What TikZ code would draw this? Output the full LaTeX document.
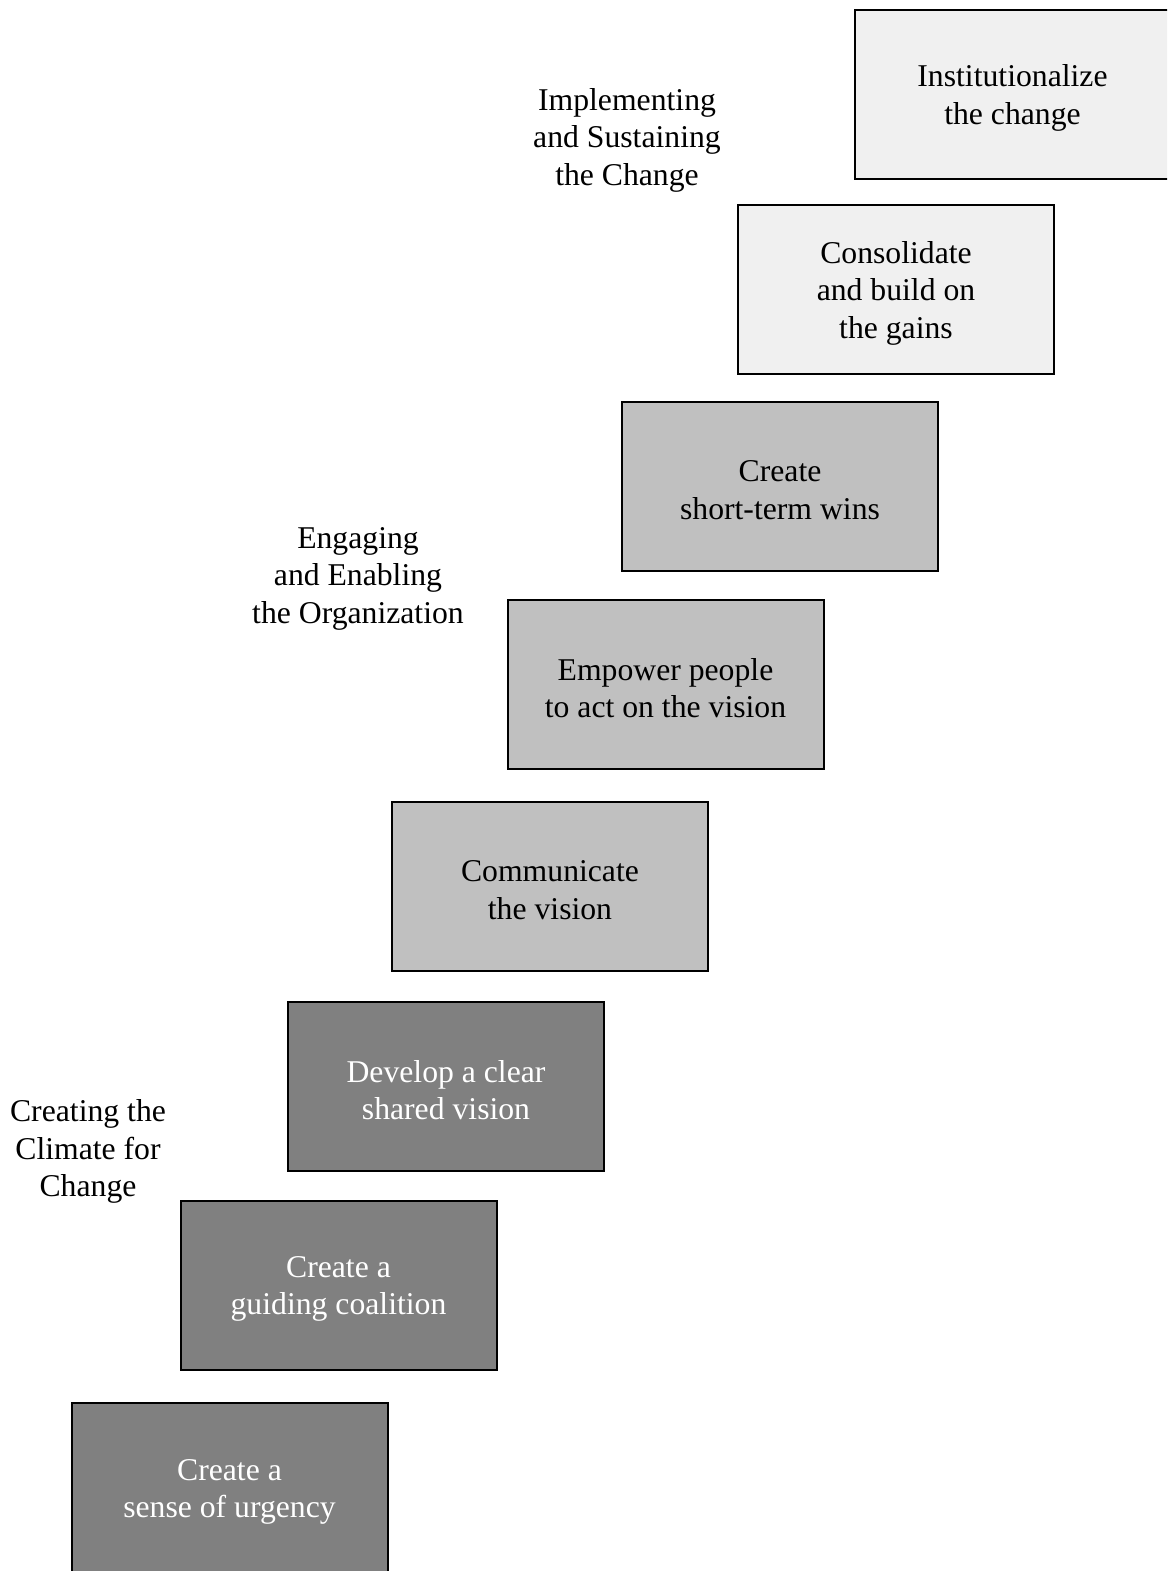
\documentclass[tikz,border=0pt]{standalone}
\usepackage{fontspec}
\setmainfont{Liberation Serif}
\definecolor{lightbox}{RGB}{240,240,240}
\definecolor{midbox}{RGB}{192,192,192}
\definecolor{darkbox}{RGB}{128,128,128}
\tikzset{
  txt/.style={align=center,font=\fontsize{31.7pt}{37.5pt}\selectfont,inner sep=0pt},
  stepbox/.style={draw=black,line width=2pt,minimum width=316pt,minimum height=169pt,inner sep=0pt},
  lightstep/.style={stepbox,fill=lightbox},
  midstep/.style={stepbox,fill=midbox},
  darkstep/.style={stepbox,fill=darkbox},
  darktxt/.style={txt,text=white},
  lighttxt/.style={txt,text=black},
  phase/.style={txt,text=black}
}
\begin{document}
\begin{tikzpicture}[x=1pt,y=-1pt]
\useasboundingbox (0,0) rectangle (1167,1571);
\clip (0,0) rectangle (1167,1571);
\node[lightstep] (s8) at (1012.5,94.5) {};
\node[lightstep] (s7) at (896,289.5) {};
\node[midstep] (s6) at (780,486.5) {};
\node[midstep] (s5) at (665.5,684.5) {};
\node[midstep] (s4) at (550,886.5) {};
\node[darkstep] (s3) at (446,1086.5) {};
\node[darkstep] (s2) at (338.5,1285.5) {};
\node[darkstep] (s1) at (229.5,1487.5) {};
\node[lighttxt] (t8) at ([yshift=-3.5pt]s8.center) {Institutionalize\\the change};
\node[lighttxt] (t7) at ([yshift=-3.5pt]s7.center) {Consolidate\\and build on\\the gains};
\node[lighttxt] (t6) at ([yshift=-3.5pt]s6.center) {Create\\short-term wins};
\node[lighttxt] (t5) at ([yshift=-3.5pt]s5.center) {Empower people\\to act on the vision};
\node[lighttxt] (t4) at ([yshift=-3.5pt]s4.center) {Communicate\\the vision};
\node[darktxt] (t3) at ([yshift=-3.5pt]s3.center) {Develop a clear\\shared vision};
\node[darktxt] (t2) at ([yshift=-3.5pt]s2.center) {Create a\\guiding coalition};
\node[darktxt] (t1) at ([yshift=-4.5pt]s1.center) {Create a\\sense of urgency};
\node[phase] (p3) at (627,140) {Implementing\\and Sustaining\\the Change};
\node[phase] (p2) at (358,578.5) {Engaging\\and Enabling\\the Organization};
\node[phase] (p1) at (88,1151.5) {Creating the\\Climate for\\Change};
\end{tikzpicture}
\end{document}
